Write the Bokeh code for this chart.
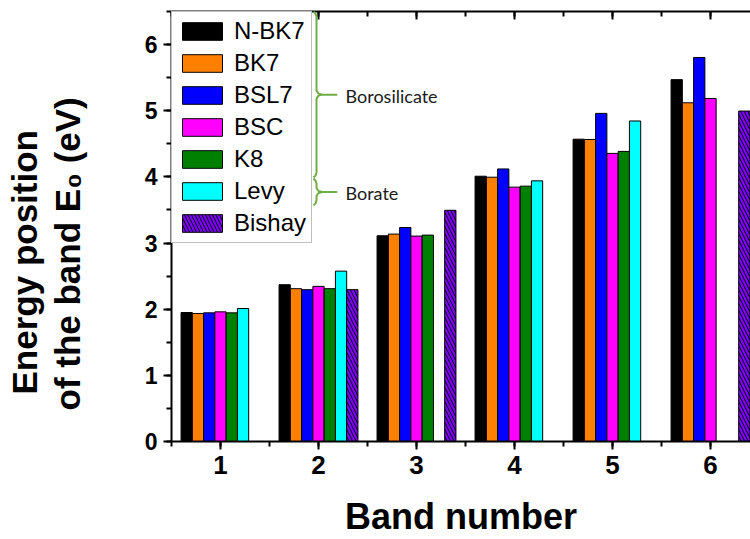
import numpy as np
from bokeh.plotting import figure
from bokeh.models import (Range1d, LinearAxis, SingleIntervalTicker, Legend, LegendItem,
                          Label, Title, ColumnDataSource, CustomLabelingPolicy)
from bokeh.embed import file_html
from bokeh.resources import INLINE

# ---------------- data ----------------
bands = [1, 2, 3, 4, 5, 6]
series_names = ["N-BK7", "BK7", "BSL7", "BSC", "K8", "Levy", "Bishay"]
n_bk7 = [1.95, 2.37, 3.11, 4.01, 4.57, 5.47]
bk7 = [1.935, 2.31, 3.135, 3.995, 4.565, 5.12]
bsl7 = [1.945, 2.295, 3.235, 4.12, 4.96, 5.805]
bsc = [1.96, 2.345, 3.105, 3.845, 4.355, 5.185]
k8 = [1.945, 2.31, 3.12, 3.86, 4.385, None]
levy = [2.01, 2.575, None, 3.94, 4.845, None]
bishay = [None, 2.295, 3.495, None, None, 4.995]
series_values = [n_bk7, bk7, bsl7, bsc, k8, levy, bishay]
series_colors = ["#000000", "#FF8000", "#0000FF", "#FF00FF", "#008000", "#00FFFF", "#7F00FF"]
group_labels = [("Borosilicate", 0, 5), ("Borate", 6, 6)]

FONT = "Liberation Sans"
BAR_W = 0.115

p = figure(width=750, height=539, x_range=Range1d(0.5, 6.408), y_range=Range1d(0, 6.5),
           output_backend="svg", toolbar_location=None,
           min_border_left=171, min_border_right=0, min_border_top=7, min_border_bottom=98)
p.grid.visible = False
p.outline_line_color = None
p.background_fill_color = "white"
p.border_fill_color = "white"

renderers = []
for i, (name, vals, col) in enumerate(zip(series_names, series_values, series_colors)):
    xs = [b + (i - 3) * BAR_W for b, v in zip(bands, vals) if v is not None]
    ys = [v for v in vals if v is not None]
    src = ColumnDataSource(dict(x=xs, top=ys))
    kw = {}
    if name == "Bishay":
        kw = dict(hatch_pattern="left_diagonal_line", hatch_color="#000000",
                  hatch_scale=7, hatch_weight=1)
    r = p.vbar(x="x", top="top", bottom=0, width=BAR_W, source=src,
               fill_color=col, line_color="#000000", line_width=1, **kw)
    renderers.append(r)

def style_axis(ax, size):
    ax.axis_line_width = 2
    ax.axis_line_color = "black"
    ax.major_tick_line_width = 2
    ax.minor_tick_line_width = 2
    ax.major_tick_line_color = "black"
    ax.minor_tick_line_color = "black"
    ax.major_label_text_font = FONT
    ax.major_label_text_font_style = "bold"
    ax.major_label_text_font_size = size
    ax.major_label_text_color = "black"

xa = p.xaxis[0]
style_axis(xa, "26px")
xa.ticker = SingleIntervalTicker(interval=1, num_minor_ticks=2)
xa.major_tick_out = 8
xa.major_tick_in = 0
xa.minor_tick_out = 5
xa.minor_tick_in = 0
xa.major_label_standoff = 6
xa.axis_label = "Band number"
xa.axis_label_text_font = FONT
xa.axis_label_text_font_style = "bold"
xa.axis_label_text_font_size = "36px"
xa.axis_label_text_color = "black"
xa.axis_label_standoff = 19

ya = p.yaxis[0]
style_axis(ya, "23px")
ya.ticker = SingleIntervalTicker(interval=1, num_minor_ticks=2)
ya.major_tick_out = 8
ya.major_tick_in = 0
ya.minor_tick_out = 5
ya.minor_tick_in = 0
ya.major_label_standoff = 6
# blank axis label used only as a spacer between tick labels and the title lines
ya.axis_label = " "
ya.axis_label_text_font_size = "10px"
ya.axis_label_standoff = 39

# top frame edge with inward ticks and no labels
top = LinearAxis(ticker=SingleIntervalTicker(interval=1, num_minor_ticks=2))
style_axis(top, "10px")
top.major_tick_out = 0
top.major_tick_in = 8
top.minor_tick_out = 0
top.minor_tick_in = 5
top.major_label_standoff = 0
top.major_label_policy = CustomLabelingPolicy(
    code="for (const i of indices) indices.unset(i); return indices")
p.add_layout(top, "above")

# y-axis title: two lines as left-side titles (inner line first)
t2 = Title(text="of the band E\u2080 (eV)", align="left", offset=31, standoff=4,
           text_font=FONT, text_font_style="bold", text_font_size="35px", text_color="black")
t1 = Title(text="Energy position", align="left", offset=47, standoff=0,
           text_font=FONT, text_font_style="bold", text_font_size="35px", text_color="black")
p.add_layout(t2, "left")
p.add_layout(t1, "left")

legend = Legend(items=[LegendItem(label=n, renderers=[r]) for n, r in zip(series_names, renderers)],
                location="top_left", margin=0, padding=5, spacing=4,
                glyph_width=50, glyph_height=22, label_height=24, label_standoff=7,
                label_text_font=FONT, label_text_font_size="24px", label_text_color="black",
                border_line_color="#808080", border_line_width=1.5,
                background_fill_color="white", background_fill_alpha=1)
p.add_layout(legend)

def px2d(xp, yp):
    return 0.5 + (xp - 171) / 98.0, (440.7 - yp) / 66.6

def brace(y_top, y_bot):
    ym = (y_top + y_bot) / 2
    pts = [(313, y_top), (315, y_top + 2), (316, y_top + 5), (316, ym - 4), (318, ym - 1),
           (322, ym), (336, ym), (322, ym), (318, ym + 1), (316, ym + 4),
           (316, y_bot - 5), (315, y_bot - 2), (313, y_bot)]
    xs, ys = zip(*[px2d(a, b) for a, b in pts])
    return list(xs), list(ys), ym

row_top = 8
row_h = 28
for text, i0, i1 in group_labels:
    yt = row_top + i0 * row_h
    yb = row_top + (i1 + 1) * row_h - 1
    bx, by, ym = brace(yt, yb)
    p.line(bx, by, line_color="#70AD47", line_width=2, line_join="round", level="overlay")
    lx, ly = px2d(345, ym + 1)
    p.add_layout(Label(x=lx, y=ly, text=text, text_font="Lato", text_font_size="18px",
                       text_baseline="middle", text_align="left", text_color="#1a1a1a"))

open("out.html", "w").write(file_html(p, INLINE))
